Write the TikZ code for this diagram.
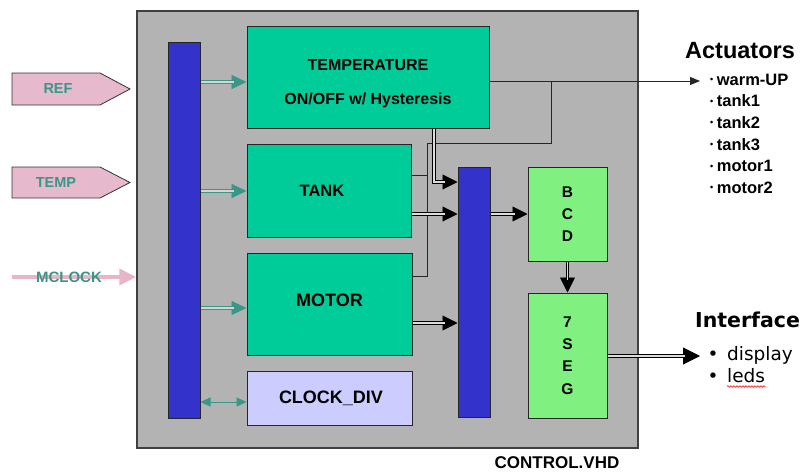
\documentclass[tikz,border=0pt]{standalone}
\usepackage{fontspec}
\setmainfont{Liberation Sans}
\newfontfamily\dvs{DejaVu Sans}
\usetikzlibrary{arrows.meta,decorations.pathmorphing}
\definecolor{bggray}{HTML}{B3B3B3}
\definecolor{boxteal}{HTML}{00CC99}
\definecolor{barblue}{HTML}{3333CC}
\definecolor{lgreen}{HTML}{80F080}
\definecolor{lav}{HTML}{CCCCFF}
\definecolor{pinkf}{HTML}{E6B9CC}
\definecolor{pinka}{HTML}{E8B4C8}
\definecolor{tealc}{HTML}{3A9687}
\definecolor{framegray}{HTML}{404040}
\newcommand\myfs[2][1.2]{\fontsize{#2}{#1\dimexpr #2pt\relax}\selectfont}
\tikzset{
  blk/.style={draw=black!85, line width=1pt, inner sep=0pt, font=\bfseries\myfs{16.5}},
  tbox/.style={blk, fill=boxteal},
  bar/.style={blk, fill=barblue},
  gbox/.style={blk, fill=lgreen, align=center, font=\bfseries\fontsize{15.5}{21.8}\selectfont},
  dblk/.style={draw=black, line width=0.9pt, double=white!55!bggray, double distance=1.4pt},
  tipk/.style={draw=black, line width=0.9pt, -{Triangle[length=#1,width=#1]}},
  dblt/.style={draw=tealc, line width=0.9pt, double=white!45!bggray, double distance=1.4pt},
  tipt/.style={draw=tealc, line width=0.9pt, -{Triangle[length=15pt,width=14pt]}},
  wire/.style={draw=black!85, line width=0.9pt},
  intext/.style={text=tealc, font=\bfseries\myfs{14.5}, inner sep=0pt},
  pent/.style={fill=pinkf, draw=black!80, line width=0.8pt},
}
\newcommand\blkarr[3]{\draw[tipk=#1] #3; \draw[dblk, shorten >=#2] #3;}
\newcommand\tealarr[1]{\draw[tipt] #1; \draw[dblt, shorten >=13pt] #1;}
\begin{document}
\begin{tikzpicture}[x=1pt,y=-1pt]
\useasboundingbox (0,0) rectangle (805,472);

% outer gray block
\node[draw=framegray, line width=1.5pt, fill=bggray, minimum width=501pt, minimum height=437pt, inner sep=0pt] (ctrl) at (387.5,229.5) {};
\node[font=\bfseries\myfs{17}, inner sep=0pt] (ctrllbl) at (557,463) {CONTROL.VHD};

% inputs
\draw[pent] (12,73) -- (100,73) -- (130,89) -- (100,105) -- (12,105) -- cycle;
\node[intext] (ref) at (58,89) {REF};
\draw[pent] (12,167) -- (100,167) -- (130,182.5) -- (100,198) -- (12,198) -- cycle;
\node[intext] (tempin) at (56,183) {TEMP};
\coordinate (mstart) at (12,277);
\draw[pinka, line width=4pt, -{Triangle[length=17pt,width=16pt]}] (mstart) -- (ctrl.west |- mstart);
\node[intext, font=\bfseries\myfs{15}] (mclk) at (69,277) {MCLOCK};

% blocks
\node[bar, minimum width=32pt, minimum height=376pt] (bar1) at (184,230) {};
\node[bar, minimum width=32pt, minimum height=250pt] (bar2) at (474,292) {};
\node[tbox, minimum width=242pt, minimum height=102pt, align=center,
      font=\bfseries\fontsize{16}{34}\selectfont] (temp) at (368,77)
      {\rule{0pt}{24pt}TEMPERATURE\\ON/OFF w/ Hysteresis};
\node[tbox, minimum width=164pt, minimum height=93pt] (tank) at (329,190.5) {\hspace*{-14pt}\raisebox{-3pt}{TANK}};
\node[tbox, minimum width=165pt, minimum height=102pt, font=\bfseries\myfs{18}] (motor) at (329.5,304) {\raisebox{8pt}{MOTOR}};
\node[blk, fill=lav, minimum width=165pt, minimum height=54pt, font=\bfseries\myfs{18}] (clk) at (329.5,398) {\hspace*{3pt}CLOCK\_DIV};
\node[gbox, minimum width=79pt, minimum height=94pt] (bcd) at (567.5,214) {B\\C\\D};
\node[gbox, minimum width=79pt, minimum height=125pt, font=\bfseries\fontsize{15.5}{22.4}\selectfont] (seg) at (567.5,355.5) {7\\S\\E\\G};

% teal connections from the input bus
\coordinate (y1) at (0,82);
\coordinate (y2) at (0,191);
\coordinate (y3) at (0,308);
\coordinate (y4) at (0,402);
\tealarr{(bar1.east |- y1) -- (temp.west |- y1)}
\tealarr{(bar1.east |- y2) -- (tank.west |- y2)}
\tealarr{(bar1.east |- y3) -- (motor.west |- y3)}
\draw[draw=tealc, line width=1pt, {Triangle[length=10pt,width=9pt]}-{Triangle[length=10pt,width=9pt]}] (bar1.east |- y4) -- (clk.west |- y4);

% actuator wiring
\coordinate (act) at (700,81);
\coordinate (jA) at (551,81);
\coordinate (jB) at (551,143);
\coordinate (jC) at (427,143);
\coordinate (jD) at (427,276);
\coordinate (jE) at (427,175);
\draw[wire, -{Triangle[length=10pt,width=8pt]}] (temp.east |- act) -- (act);
\draw[wire] (jA) -- (jB) -- (jC) -- (jD) -- (motor.east |- jD);
\draw[wire] (tank.east |- jE) -- (jE);

% double black buses
\coordinate (q) at (434,182);
\coordinate (yt) at (0,214);
\coordinate (ym) at (0,323);
\coordinate (iface) at (700,356);
\blkarr{15pt}{13pt}{(temp.south -| q) |- (bar2.west |- q)}
\blkarr{15pt}{13pt}{(tank.east |- yt) -- (bar2.west |- yt)}
\blkarr{15pt}{13pt}{(motor.east |- ym) -- (bar2.west |- ym)}
\blkarr{15pt}{13pt}{(bar2.east |- yt) -- (bcd.west |- yt)}
\blkarr{15pt}{13pt}{(bcd.south) -- (seg.north)}
\blkarr{17pt}{15pt}{(seg.east |- iface) -- (iface)}

% right-hand labels
\node[anchor=base west, inner sep=0pt, font=\bfseries\myfs{23.5}] (actlbl) at (685,58) {Actuators};
\foreach \nm/\txt/\yy in {a1/warm-UP/85, a2/tank1/106.7, a3/tank2/128.3, a4/tank3/150, a5/motor1/171.7, a6/motor2/193.3}{
  \node[anchor=base west, inner sep=0pt, font=\bfseries\myfs{16.5}] (\nm) at (710,\yy)
    {\raisebox{2.6pt}{\myfs{9}\textbullet}\hspace{3.5pt}\txt};
}
\node[anchor=base west, inner sep=0pt, font=\dvs\bfseries\myfs{20.5}] (iflbl) at (695,327) {Interface};
\node[anchor=base, inner sep=0pt, font=\dvs\myfs{18.5}] (b1) at (713,360.7) {•};
\node[anchor=base west, inner sep=0pt, font=\dvs\myfs{18.5}] (disp) at (727,360.7) {display};
\node[anchor=base, inner sep=0pt, font=\dvs\myfs{18.5}] (b2) at (713,382.5) {•};
\node[anchor=base west, inner sep=0pt, font=\dvs\myfs{18.5}] (leds) at (727,382.5) {leds};
\draw[red, line width=0.6pt, decorate, decoration={snake, amplitude=0.8pt, segment length=3pt}]
  ([yshift=-4pt]leds.base west) -- ([yshift=-4pt]leds.base east);
\end{tikzpicture}
\end{document}
